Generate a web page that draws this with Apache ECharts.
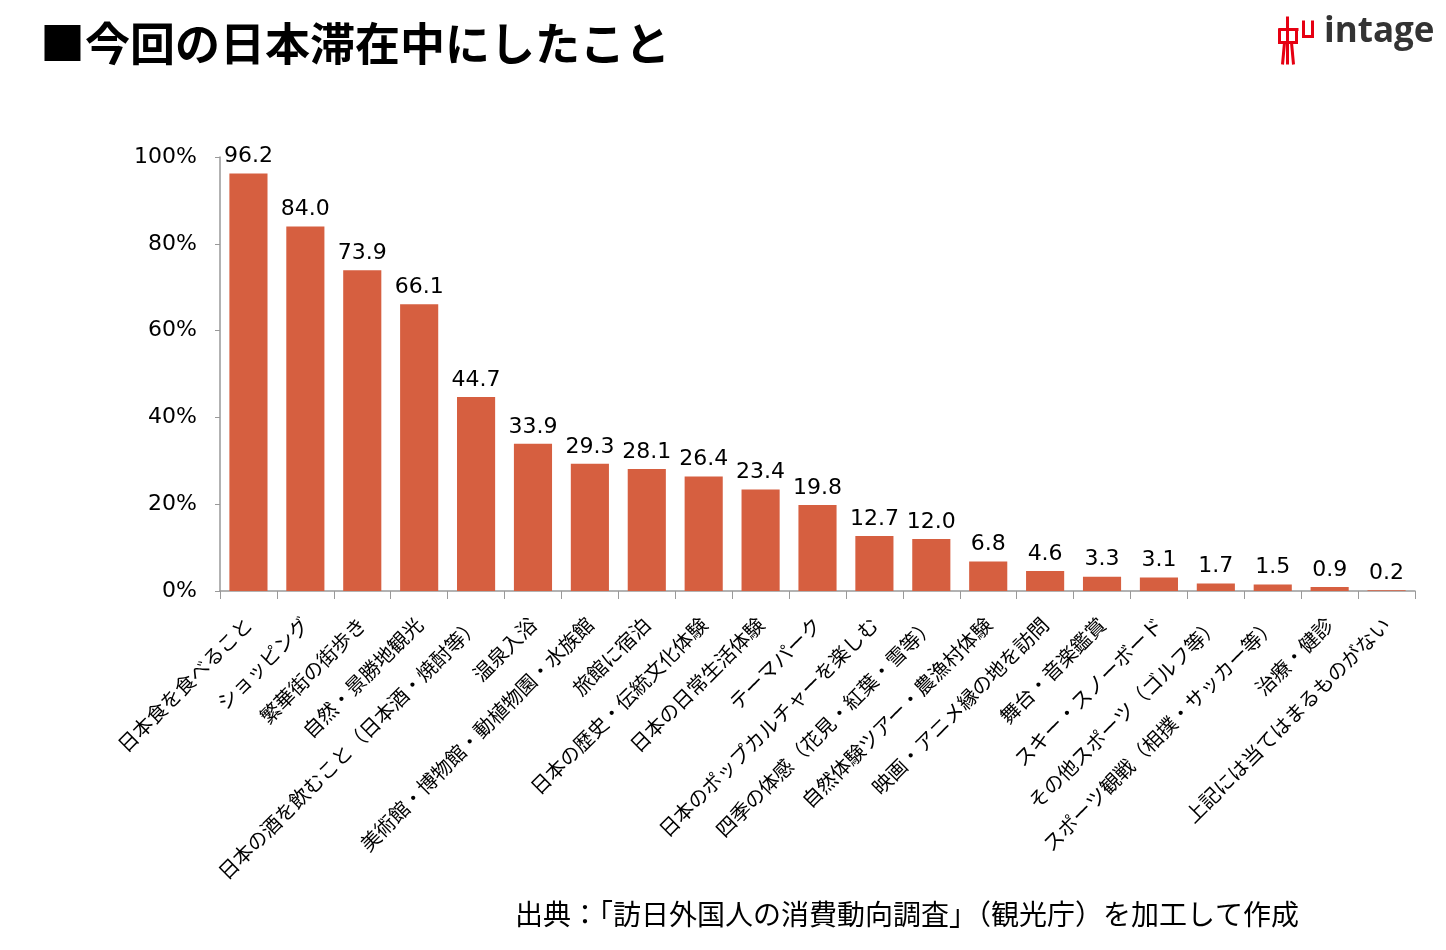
<!DOCTYPE html>
<html>
<head>
<meta charset="utf-8">
<script src="https://cdn.jsdelivr.net/npm/echarts@6/dist/echarts.min.js"></script>
<style>
  html, body { margin: 0; padding: 0; background: #fff; }
  #main { width: 1446px; height: 950px; }
</style>
</head>
<body>
<div id="main"></div>
<script>
// 今回の日本滞在中にしたこと（%）
var categories = [
  '日本食を食べること', 'ショッピング', '繁華街の街歩き', '自然・景勝地観光',
  '日本の酒を飲むこと（日本酒・焼酎等）', '温泉入浴', '美術館・博物館・動植物園・水族館',
  '旅館に宿泊', '日本の歴史・伝統文化体験', '日本の日常生活体験', 'テーマパーク',
  '日本のポップカルチャーを楽しむ', '四季の体感（花見・紅葉・雪等）', '自然体験ツアー・農漁村体験',
  '映画・アニメ縁の地を訪問', '舞台・音楽鑑賞', 'スキー・スノーボード', 'その他スポーツ（ゴルフ等）',
  'スポーツ観戦（相撲・サッカー等）', '治療・健診', '上記には当てはまるものがない'
];
var values = [96.2, 84.0, 73.9, 66.1, 44.7, 33.9, 29.3, 28.1, 26.4, 23.4, 19.8,
  12.7, 12.0, 6.8, 4.6, 3.3, 3.1, 1.7, 1.5, 0.9, 0.2];
var yTicks = [0, 20, 40, 60, 80, 100];

var jp = '"Noto Sans CJK JP", sans-serif';
var num = '"DejaVu Sans", Verdana, sans-serif';
var red = '#E60012';

var myChart = echarts.init(document.getElementById('main'));
var option = {
  animation: false,
  backgroundColor: '#fff',
  grid: { left: 220, right: 31, top: 157, bottom: 359 },
  xAxis: {
    type: 'category',
    data: categories,
    axisLine: { lineStyle: { color: '#999', width: 1.5 } },
    axisTick: { show: true, length: 8, lineStyle: { color: '#999' } },
    axisLabel: {
      rotate: 45, interval: 0, margin: 30,
      fontFamily: jp, fontSize: 20, color: '#000'
    }
  },
  yAxis: {
    type: 'value',
    min: 0, max: 100, interval: 20,
    axisLine: { show: true, lineStyle: { color: '#999', width: 1.5 } },
    axisTick: { show: true, length: 5, lineStyle: { color: '#999' } },
    splitLine: { show: false },
    axisLabel: {
      margin: 23,
      fontFamily: num, fontSize: 22, color: '#000',
      formatter: function (v) { return yTicks.indexOf(v) >= 0 ? v + '%' : ''; }
    }
  },
  series: [{
    type: 'bar',
    data: values,
    barCategoryGap: '33%',
    itemStyle: { color: '#D65F40' },
    label: {
      show: true, position: 'top', distance: 6,
      fontFamily: num, fontSize: 22, color: '#000',
      formatter: function (p) { return p.value.toFixed(1); }
    }
  }],
  graphic: [
    {
      type: 'text', left: 40, top: 21,
      style: { text: '■今回の日本滞在中にしたこと', font: 'bold 45px ' + jp, fill: '#000' }
    },
    {
      type: 'text', left: 515, top: 900,
      style: { text: '出典：「訪日外国人の消費動向調査」（観光庁）を加工して作成', font: '28px ' + jp, fill: '#000' }
    },
    // intage logo
    {
      type: 'group', left: 1276, top: 14,
      children: [
        { type: 'line', shape: { x1: 11, y1: 0, x2: 11, y2: 48 }, style: { stroke: red, lineWidth: 3 } },
        { type: 'line', shape: { x1: 2, y1: 13, x2: 22, y2: 13 }, style: { stroke: red, lineWidth: 3 } },
        { type: 'polyline', shape: { points: [[3, 12], [3, 26], [20, 26], [20, 12]] }, style: { stroke: red, lineWidth: 3, fill: 'none' } },
        { type: 'polyline', shape: { points: [[8, 26], [6, 48]] }, style: { stroke: red, lineWidth: 3, fill: 'none' } },
        { type: 'polyline', shape: { points: [[15, 26], [17, 48]] }, style: { stroke: red, lineWidth: 3, fill: 'none' } },
        { type: 'polyline', shape: { points: [[27, 4], [27, 20], [36, 20], [36, 4]] }, style: { stroke: red, lineWidth: 3, fill: 'none' } }
      ]
    },
    {
      type: 'text', left: 1324, top: 15,
      style: { text: 'intage', font: 'bold 35px "Open Sans", sans-serif', fill: '#333' }
    }
  ]
};
myChart.setOption(option);
</script>
</body>
</html>
